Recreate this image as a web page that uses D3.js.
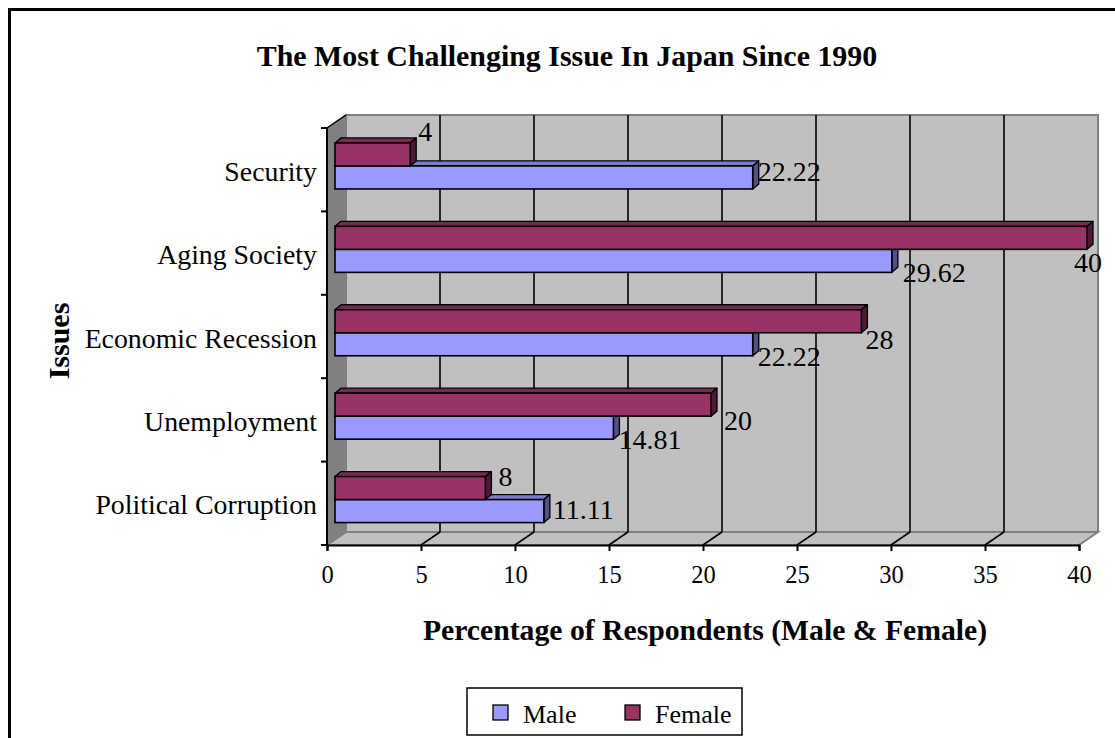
<!DOCTYPE html>
<html><head><meta charset="utf-8">
<script src="https://cdn.jsdelivr.net/npm/d3@7"></script>
<style>
body{margin:0;background:#fff}
text{font-family:"Liberation Serif","Times New Roman",serif;fill:#000}
</style>
</head><body><svg id="c" width="1115" height="738"></svg>
<script>
// ---- data ----
const categories = ["Security", "Aging Society", "Economic Recession", "Unemployment", "Political Corruption"];
const maleValues = [22.22, 29.62, 22.22, 14.81, 11.11];
const femaleValues = [4, 40, 28, 20, 8];
const xTicks = [0, 5, 10, 15, 20, 25, 30, 35, 40];
const seriesNames = ["Male", "Female"];
const chartTitle = "The Most Challenging Issue In Japan Since 1990";
const xTitle = "Percentage of Respondents (Male & Female)";
const yTitle = "Issues";

// ---- layout ----
const L = 327, R = 1079, T = 128, B = 545;
const DX = 19, DY = -13;      // wall depth
const BDX = 8, BDY = -5.5;    // bar front-face depth offset
const bdx = 6, bdy = -5;      // bar thickness
const femaleNudge = [[8,-23],[-13,24],[4,18],[13,15],[13,-12]];
const maleNudge = [[5,-6],[11,11],[5,12],[5,11],[9,-2]];
const colors = {
  Male:   {front:"#9999FF", top:"#7b7bd6", side:"#50508a"},
  Female: {front:"#993366", top:"#7a2952", side:"#4c1a33"}
};

const svg = d3.select("#c");
const x = d3.scaleLinear().domain([0, 40]).range([L, R]);
const y = d3.scaleBand().domain(categories).range([T, B]);
const bw = y.bandwidth();
const barH = bw * 0.276;

// outer frame
svg.append("line").attr("x1",8).attr("x2",1115).attr("y1",9.5).attr("y2",9.5).attr("stroke","#000").attr("stroke-width",3);
svg.append("line").attr("x1",9.5).attr("x2",9.5).attr("y1",8).attr("y2",738).attr("stroke","#000").attr("stroke-width",3);

// back wall
svg.append("rect").attr("x",L+DX).attr("y",T+DY).attr("width",R-L).attr("height",B-T)
  .attr("fill","#C0C0C0").attr("stroke","#808080").attr("stroke-width",2);
// floor
svg.append("polygon").attr("points",[[L,B],[L+DX,B+DY],[R+DX,B+DY],[R,B]].map(p=>p.join(",")).join(" "))
  .attr("fill","#C0C0C0").attr("stroke","#808080").attr("stroke-width",2);
// left wall
svg.append("polygon").attr("points",[[L,T],[L+DX,T+DY],[L+DX,B+DY],[L,B]].map(p=>p.join(",")).join(" "))
  .attr("fill","#808080").attr("stroke","#808080").attr("stroke-width",1.5);
svg.append("line").attr("x1",L).attr("y1",T).attr("x2",L+DX).attr("y2",T+DY).attr("stroke","#000").attr("stroke-width",1.5);

// gridlines + floor diagonals
const inner = xTicks.filter(t => t > 0 && t < 40);
svg.append("g").selectAll("line").data(inner).join("line")
  .attr("x1",d=>x(d)+DX).attr("x2",d=>x(d)+DX).attr("y1",T+DY).attr("y2",B+DY)
  .attr("stroke","#000").attr("stroke-width",1.6);
svg.append("g").selectAll("line").data(inner).join("line")
  .attr("x1",d=>x(d)).attr("x2",d=>x(d)+DX).attr("y1",B).attr("y2",B+DY)
  .attr("stroke","#000").attr("stroke-width",1.6);

// x axis
const xAxis = svg.append("g").attr("transform",`translate(0,${B})`)
  .call(d3.axisBottom(x).tickValues(xTicks).tickSize(6).tickPadding(8).tickFormat(d3.format("d")));
xAxis.select(".domain").attr("stroke","#000").attr("stroke-width",2);
xAxis.selectAll(".tick line").attr("stroke","#000").attr("stroke-width",2);
xAxis.selectAll(".tick text").attr("font-size",24.5).attr("font-family",null).attr("dy",null).attr("y",38);

// y axis
svg.append("line").attr("x1",L).attr("x2",L).attr("y1",T).attr("y2",B).attr("stroke","#000").attr("stroke-width",2);
const bounds = categories.map(c => y(c)).concat([B]);
svg.append("g").selectAll("line").data(bounds).join("line")
  .attr("x1",L-6).attr("x2",L).attr("y1",d=>d).attr("y2",d=>d).attr("stroke","#000").attr("stroke-width",2);
svg.append("g").selectAll("text").data(categories).join("text")
  .attr("x",317).attr("y",d=>y(d)+bw/2+11).attr("text-anchor","end").attr("font-size",27.8).text(d=>d);

// bars
function drawBar(g, v, yTop, col) {
  const x0 = x(0)+BDX, x1 = x(v)+BDX;
  const pts = a => a.map(p=>p.join(",")).join(" ");
  g.append("polygon").attr("points",pts([[x0,yTop],[x0+bdx,yTop+bdy],[x1+bdx,yTop+bdy],[x1,yTop]]))
    .attr("fill",col.top).attr("stroke","#000").attr("stroke-width",1.3).attr("stroke-linejoin","round");
  g.append("polygon").attr("points",pts([[x1,yTop],[x1+bdx,yTop+bdy],[x1+bdx,yTop+barH+bdy],[x1,yTop+barH]]))
    .attr("fill",col.side).attr("stroke","#000").attr("stroke-width",1.3).attr("stroke-linejoin","round");
  g.append("rect").attr("x",x0).attr("y",yTop).attr("width",x1-x0).attr("height",barH)
    .attr("fill",col.front).attr("stroke","#000").attr("stroke-width",1.6);
}
const barsG = svg.append("g");
categories.forEach((c,i) => {
  const fTop = y(c) + bw*0.245 + BDY;
  const mTop = fTop + barH;
  drawBar(barsG, maleValues[i], mTop, colors.Male);
  drawBar(barsG, femaleValues[i], fTop, colors.Female);
});
// value labels
const labG = svg.append("g");
categories.forEach((c,i) => {
  const fTop = y(c) + bw*0.245 + BDY;
  const mTop = fTop + barH;
  labG.append("text").attr("x", x(femaleValues[i])+BDX+femaleNudge[i][0])
    .attr("y", fTop+barH/2+femaleNudge[i][1]+10).attr("font-size",28).text(String(femaleValues[i]));
  labG.append("text").attr("x", x(maleValues[i])+BDX+maleNudge[i][0])
    .attr("y", mTop+barH/2+maleNudge[i][1]+10).attr("font-size",28).text(String(maleValues[i]));
});

// titles
svg.append("text").attr("x",567).attr("y",66).attr("text-anchor","middle").attr("font-size",29.9)
  .attr("font-weight","bold").text(chartTitle);
svg.append("text").attr("x",705).attr("y",640).attr("text-anchor","middle").attr("font-size",29.7)
  .attr("font-weight","bold").text(xTitle);
svg.append("text").attr("transform","translate(69,341) rotate(-90)").attr("text-anchor","middle")
  .attr("font-size",30).attr("font-weight","bold").text(yTitle);

// legend
const lg = svg.append("g");
lg.append("rect").attr("x",467).attr("y",688).attr("width",275).attr("height",47)
  .attr("fill","#fff").attr("stroke","#000").attr("stroke-width",1.5);
const legX = [493, 625];
seriesNames.forEach((s,i) => {
  lg.append("rect").attr("x",legX[i]).attr("y",705).attr("width",15).attr("height",15)
    .attr("fill",colors[s].front).attr("stroke","#000").attr("stroke-width",1.3);
  lg.append("text").attr("x",legX[i]+30).attr("y",723).attr("font-size",26).text(s);
});
</script></body></html>
